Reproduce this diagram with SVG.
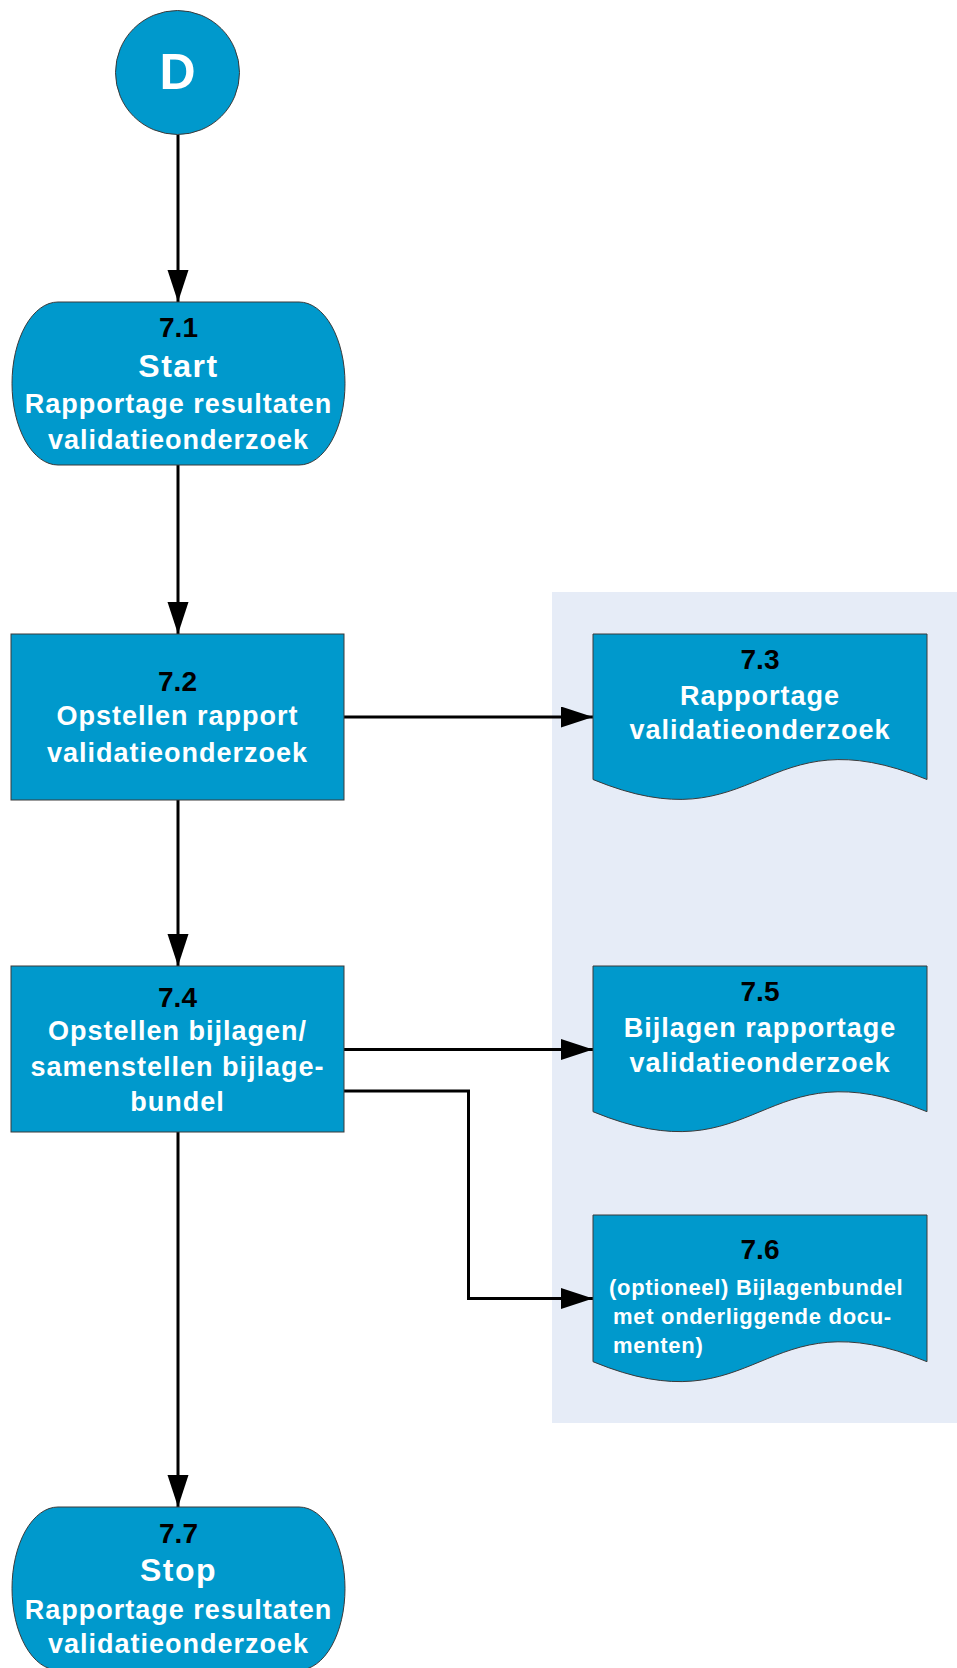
<svg xmlns="http://www.w3.org/2000/svg" width="957" height="1668" viewBox="0 0 957 1668">
<defs>
<style>
.shape{fill:#0099cc;stroke:#3a3a3a;stroke-width:1}
.num{font-family:"Liberation Sans",Arial,sans-serif;font-weight:bold;font-size:28px;fill:#000;text-anchor:middle}
.body{font-family:"Liberation Sans",Arial,sans-serif;font-weight:bold;font-size:27px;fill:#fff;text-anchor:middle;letter-spacing:1px}
.big{font-family:"Liberation Sans",Arial,sans-serif;font-weight:bold;font-size:32px;fill:#fff;text-anchor:middle;letter-spacing:1.5px}
.small{font-family:"Liberation Sans",Arial,sans-serif;font-weight:bold;font-size:22px;fill:#fff;letter-spacing:0.7px}
.conn{fill:none;stroke:#000;stroke-width:3;marker-end:url(#arrow)}
</style>
<marker id="arrow" markerUnits="userSpaceOnUse" markerWidth="32" markerHeight="22" refX="32" refY="10.5" orient="auto">
<path d="M0,0 L32,10.5 L0,21 Z" fill="#000"/>
</marker>
</defs>
<rect id="panel" x="552" y="592" width="405" height="831" fill="#e6ecf7"/>
<g id="connectors">
<path class="conn" d="M178,134.5 V302"/>
<path class="conn" d="M178,465 V634"/>
<path class="conn" d="M344,717 H593"/>
<path class="conn" d="M178,800 V966"/>
<path class="conn" d="M344,1049.5 H593"/>
<path class="conn" d="M344,1091 H468.5 V1298.5 H593"/>
<path class="conn" d="M178,1132 V1507"/>
</g>
<g id="nodeD">
<circle class="shape" cx="177.5" cy="72.5" r="62"/>
<text x="177.5" y="88.5" font-family="Liberation Sans, Arial, sans-serif" font-weight="bold" font-size="50" fill="#fff" text-anchor="middle">D</text>
</g>
<g id="node71">
<rect class="shape" x="12" y="302" width="333" height="163" rx="46" ry="81.5"/>
<text class="num" x="178.5" y="337">7.1</text>
<text class="big" x="178.5" y="377">Start</text>
<text class="body" x="178.5" y="413">Rapportage resultaten</text>
<text class="body" x="178.5" y="449">validatieonderzoek</text>
</g>
<g id="node72">
<rect class="shape" x="11" y="634" width="333" height="166"/>
<text class="num" x="177.5" y="691">7.2</text>
<text class="body" x="177.5" y="725">Opstellen rapport</text>
<text class="body" x="177.5" y="761.5">validatieonderzoek</text>
</g>
<g id="node73">
<path class="shape" d="M593,634 H927 V779.5 C760,710.5 760,848.5 593,779.5 Z"/>
<text class="num" x="760" y="669">7.3</text>
<text class="body" x="760" y="705">Rapportage</text>
<text class="body" x="760" y="739">validatieonderzoek</text>
</g>
<g id="node74">
<rect class="shape" x="11" y="966" width="333" height="166"/>
<text class="num" x="177.5" y="1006.5">7.4</text>
<text class="body" x="177.5" y="1040">Opstellen bijlagen/</text>
<text class="body" x="177.5" y="1075.5">samenstellen bijlage-</text>
<text class="body" x="177.5" y="1111">bundel</text>
</g>
<g id="node75">
<path class="shape" d="M593,966 H927 V1111.7 C760,1042.7 760,1180.7 593,1111.7 Z"/>
<text class="num" x="760" y="1001">7.5</text>
<text class="body" x="760" y="1036.5">Bijlagen rapportage</text>
<text class="body" x="760" y="1072">validatieonderzoek</text>
</g>
<g id="node76">
<path class="shape" d="M593,1215 H927 V1361.7 C760,1292.7 760,1430.7 593,1361.7 Z"/>
<text class="num" x="760" y="1259.3">7.6</text>
<text class="small" x="609" y="1295">(optioneel) Bijlagenbundel</text>
<text class="small" x="613" y="1324.3">met onderliggende docu-</text>
<text class="small" x="613" y="1353.3">menten)</text>
</g>
<g id="node77">
<rect class="shape" x="12" y="1507" width="333" height="163" rx="46" ry="81.5"/>
<text class="num" x="178.5" y="1542.7">7.7</text>
<text class="big" x="178.5" y="1580.7">Stop</text>
<text class="body" x="178.5" y="1619">Rapportage resultaten</text>
<text class="body" x="178.5" y="1653">validatieonderzoek</text>
</g>
</svg>
